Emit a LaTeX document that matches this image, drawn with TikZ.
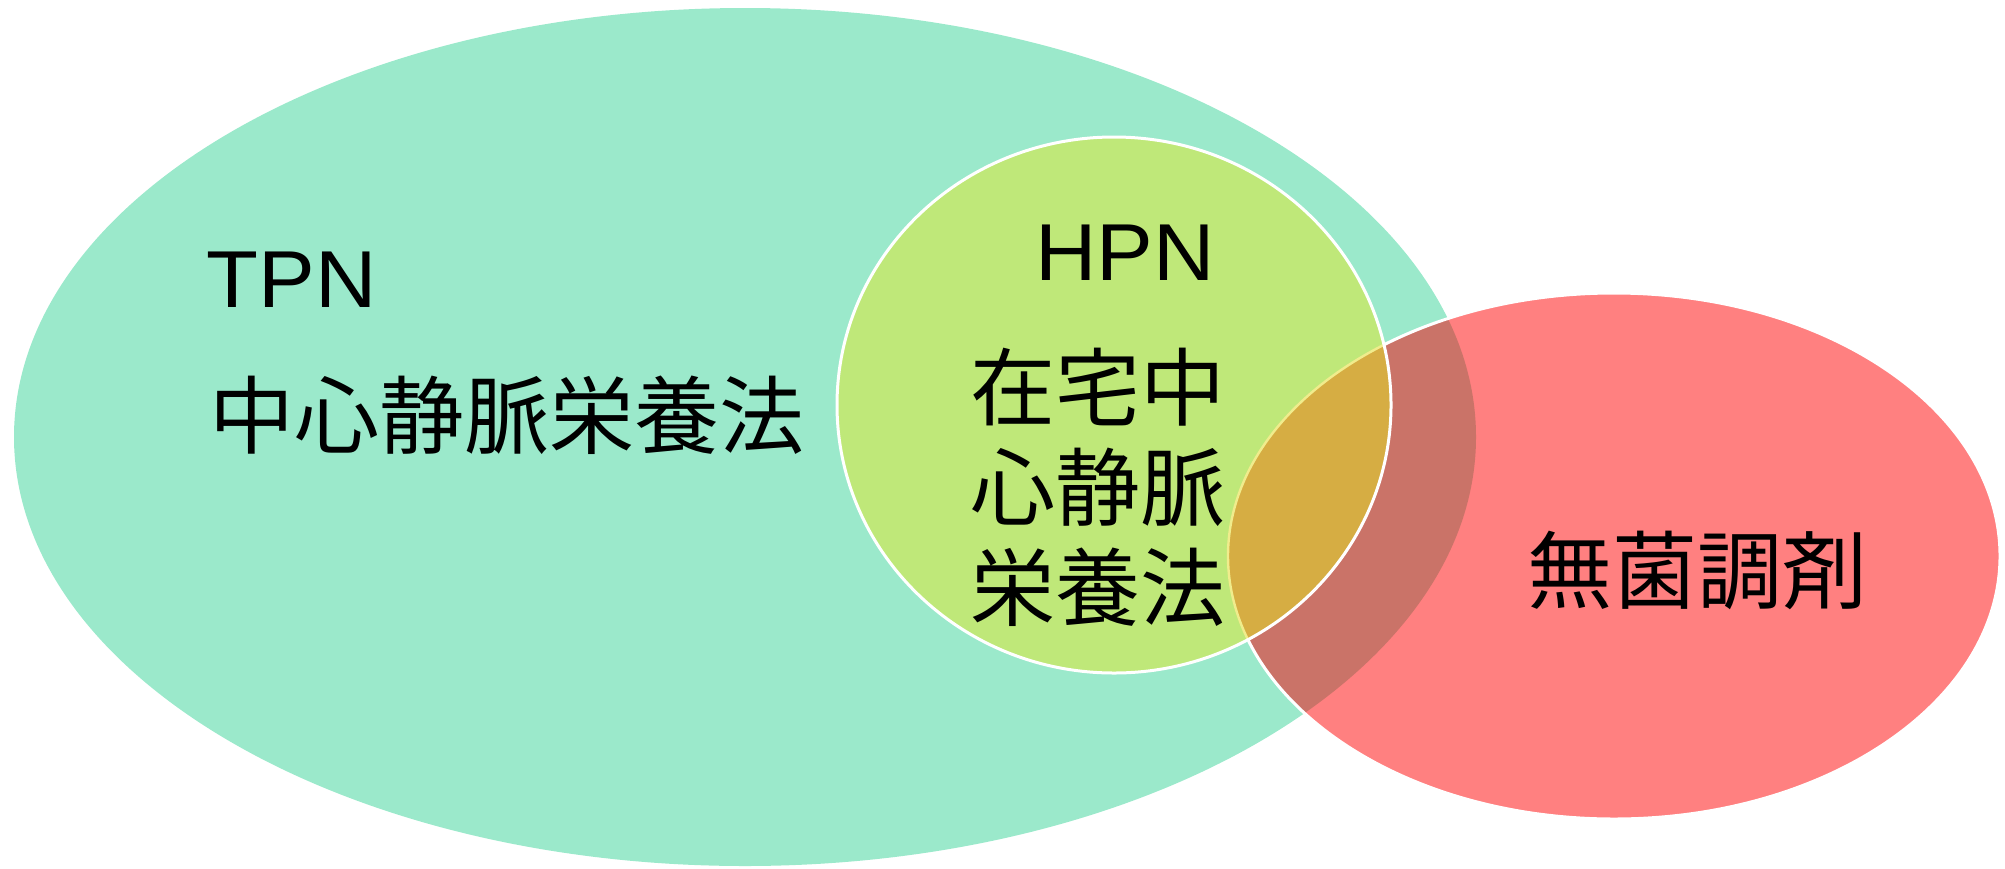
\documentclass[tikz,border=0pt]{standalone}
\usepackage{fontspec}
\setmainfont{Liberation Sans}
\newfontfamily\jpfont{Noto Sans CJK JP}
\usepackage{tikz}

\definecolor{tpngreen}{RGB}{155,233,203}
\definecolor{hpnlime}{RGB}{191,232,121}
\definecolor{sterilered}{RGB}{255,128,128}
\definecolor{mixbrown}{RGB}{202,115,104}
\definecolor{mixgold}{RGB}{214,173,67}
\definecolor{paleyellow}{RGB}{240,236,140}

\begin{document}
\begin{tikzpicture}[x=0.5pt,y=-0.5pt,
    latin/.style={font=\fontsize{42.5pt}{50pt}\selectfont,inner sep=0pt,anchor=base west,yscale=0.95},
    kanji/.style={font=\jpfont\fontsize{42.5pt}{50pt}\selectfont,inner sep=0pt,anchor=base west},
    rim/.style={draw=white,line width=1.5pt}]
  \useasboundingbox (0,0) rectangle (2005,868);
  % TPN, sterile and HPN sets
  \fill[tpngreen] (745,437) ellipse [x radius=731, y radius=429];
  \fill[sterilered] (1614,556) ellipse [x radius=386, y radius=263];
  \begin{scope}
    \clip (745,437) ellipse [x radius=731, y radius=429];
    \fill[mixbrown] (1614,556) ellipse [x radius=386, y radius=263];
  \end{scope}
  \path[rim] (1614,556) ellipse [x radius=386, y radius=263];
  \fill[hpnlime] (1114,405) ellipse [x radius=277, y radius=268];
  \begin{scope}
    \clip (1114,405) ellipse [x radius=277, y radius=268];
    \fill[mixgold] (1614,556) ellipse [x radius=386, y radius=263];
    \draw[paleyellow,line width=1.2pt] (1614,556) ellipse [x radius=386, y radius=263];
  \end{scope}
  \path[rim] (1114,405) ellipse [x radius=277, y radius=268];
  % labels
  \node[latin] (tpn) at (206,307) {TPN};
  \node[kanji] (tpnjp) at (209,447) {中心静脈栄養法};
  \node[latin] (hpn) at (1035,280) {HPN};
  \node[kanji] (hpnjp1) at (970,419) {在宅中};
  \node[kanji] (hpnjp2) at (970,519) {心静脈};
  \node[kanji] (hpnjp3) at (970,619) {栄養法};
  \node[kanji] (sterile) at (1527,602) {無菌調剤};
\end{tikzpicture}
\end{document}
